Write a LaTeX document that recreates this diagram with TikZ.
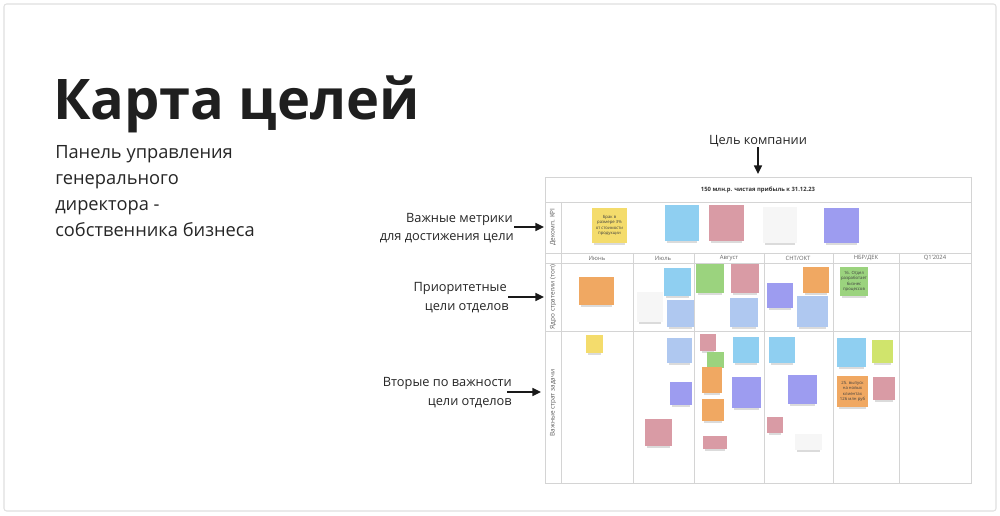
\documentclass[tikz,border=0pt]{standalone}
\usepackage{fontspec}
\setmainfont{Open Sans}
\usetikzlibrary{arrows.meta}
\definecolor{nyellow}{HTML}{F4DC6C}
\definecolor{nblue}{HTML}{8FCFF1}
\definecolor{npink}{HTML}{D99BA5}
\definecolor{npurple}{HTML}{9D9CF0}
\definecolor{norange}{HTML}{F0A862}
\definecolor{nperi}{HTML}{AFC8F0}
\definecolor{ngreen}{HTML}{9BD37E}
\definecolor{nlime}{HTML}{D0E46C}
\definecolor{nwhite}{HTML}{F6F6F6}
\definecolor{gridc}{HTML}{D4D4D4}
\newcommand{\sticky}[7]{%
  \fill[black!40,opacity=0.35] (#2+2,#5-1) rectangle (#4-2,#5+2.2);
  \node[notebox,fill=#6,minimum width={(#4-#2)*0.75pt},minimum height={(#5-#3)*0.75pt}] (#1) at ({(#2+#4)/2},{(#3+#5)/2}) {#7};
}
\begin{document}
\begin{tikzpicture}[x=0.75pt,y=-0.75pt,
  notebox/.style={inner sep=0pt,align=center,text=black!75,font=\fontsize{3.2}{3.9}\selectfont},
  conn/.style={-{Triangle[length=6.5pt,width=6pt]},line width=1.2pt,black!90},
  grid/.style={draw=gridc,line width=0.55pt},
  lbl/.style={inner sep=0pt,font=\fontsize{9.6}{12}\selectfont,text=black!85},
  sub/.style={inner sep=0pt,anchor=base west,font=\fontsize{13.7}{16}\selectfont,text=black!85},
  month/.style={inner sep=0pt,font=\fontsize{4.4}{5}\selectfont,text=black!60},
  rowlbl/.style={inner sep=0pt,rotate=90,font=\fontsize{4.8}{5.5}\selectfont,text=black!65}]
\useasboundingbox (0,0) rectangle (1000,516);
\fill[white] (0,0) rectangle (1000,516);
\draw[black!12,line width=0.8pt,rounded corners=2pt] (4,4) rectangle (996,511);

% title
\node[inner sep=0pt,anchor=base west,font=\bfseries\fontsize{42}{48}\selectfont,text=black!88] (title) at (53,120) {Карта целей};
\node[sub] (s1) at (55,159) {Панель управления};
\node[sub] (s2) at (55,185) {генерального};
\node[sub] (s3) at (55,211) {директора -};
\node[sub] (s4) at (55,237) {собственника бизнеса};

% goal
\node[lbl] (goal) at (758,141) {Цель компании};
\coordinate (goalend) at (758,174);
\draw[conn] (goal.south) -- (goalend);

% left labels
\node[lbl,anchor=base east] (l1a) at (513,223) {Важные метрики};
\node[lbl,anchor=base east] (l1b) at (514,241) {для достижения цели};
\node[lbl,anchor=base east] (l2a) at (507,292) {Приоритетные};
\node[lbl,anchor=base east] (l2b) at (509,311) {цели отделов};
\node[lbl,anchor=base east] (l3a) at (512,387) {Вторые по важности};
\node[lbl,anchor=base east] (l3b) at (512,406) {цели отделов};
\coordinate (a1s) at (514,227); \coordinate (a1e) at (544,227);
\coordinate (a2s) at (508,297); \coordinate (a2e) at (544,297);
\coordinate (a3s) at (507,392); \coordinate (a3e) at (541,392);
\draw[conn] (a1s) -- (a1e);
\draw[conn] (a2s) -- (a2e);
\draw[conn] (a3s) -- (a3e);

% table
\draw[grid] (545,177) rectangle (971,483);
\draw[grid] (545,202) -- (971,202);
\draw[grid] (545,253) -- (971,253);
\draw[grid] (545,263) -- (971,263);
\draw[grid] (545,331) -- (971,331);
\draw[grid] (561,202) -- (561,483);
\foreach \xx in {633,694,764,833,899} \draw[grid] (\xx,253) -- (\xx,483);

\node[inner sep=0pt,font=\bfseries\fontsize{4.4}{5}\selectfont,text=black!80] (goalhdr) at (758,190) {150 млн.р. чистая прибыль к 31.12.23};
\node[month] (m1) at (597,258) {Июнь};
\node[month] (m2) at (663,258) {Июль};
\node[month] (m3) at (729,258) {Август};
\node[month] (m4) at (798,258) {СНТ/ОКТ};
\node[month] (m5) at (866,258) {НБР/ДЕК};
\node[month] (m6) at (935,258) {Q1'2024};
\node[rowlbl] (r1) at (553,227) {Декомп. KPI};
\node[rowlbl] (r2) at (553,297) {Ядро стратегии (топ)};
\node[rowlbl] (r3) at (553,403) {Важные страт задачи};

% KPI row
\sticky{k1}{592}{208}{627}{243}{nyellow}{Брак в\\размере 3\%\\от стоимости\\продукции}
\sticky{k2}{665}{205}{699}{241}{nblue}{}
\sticky{k3}{709}{205}{744}{241}{npink}{}
\sticky{k4}{763}{207}{797}{243}{nwhite}{}
\sticky{k5}{824}{208}{859}{243}{npurple}{}
% core row
\sticky{c1}{579}{277}{614}{305}{norange}{}
\sticky{c2}{637}{292}{663}{322}{nwhite}{}
\sticky{c3}{664}{268}{691}{296}{nblue}{}
\sticky{c4}{667}{300}{694}{327}{nperi}{}
\sticky{c5}{696}{264}{724}{293}{ngreen}{}
\sticky{c6}{731}{264}{759}{293}{npink}{}
\sticky{c7}{730}{298}{758}{327}{nperi}{}
\sticky{c8}{767}{283}{793}{308}{npurple}{}
\sticky{c9}{803}{267}{829}{293}{norange}{}
\sticky{c10}{797}{296}{828}{327}{nperi}{}
\sticky{c11}{840}{267}{868}{296}{ngreen}{16. Отдел\\разработает\\бизнес\\процессов}
% tasks row
\sticky{t1}{586}{335}{603}{353}{nyellow}{}
\sticky{t2}{667}{338}{692}{363}{nperi}{}
\sticky{t3}{670}{382}{692}{405}{npurple}{}
\sticky{t4}{645}{419}{672}{446}{npink}{}
\sticky{t5}{700}{334}{716}{351}{npink}{}
\sticky{t6}{707}{352}{724}{368}{ngreen}{}
\sticky{t7}{702}{367}{722}{393}{norange}{}
\sticky{t8}{702}{399}{724}{421}{norange}{}
\sticky{t9}{703}{436}{727}{449}{npink}{}
\sticky{t10}{733}{337}{759}{363}{nblue}{}
\sticky{t11}{732}{377}{761}{408}{npurple}{}
\sticky{t12}{769}{337}{795}{363}{nblue}{}
\sticky{t13}{788}{375}{817}{404}{npurple}{}
\sticky{t14}{767}{417}{783}{433}{npink}{}
\sticky{t15}{795}{434}{822}{450}{nwhite}{}
\sticky{t16}{837}{338}{866}{367}{nblue}{}
\sticky{t17}{872}{340}{893}{363}{nlime}{}
\sticky{t18}{837}{376}{868}{407}{norange}{25. выпуск\\на новых\\клиентах\\126 млн руб}
\sticky{t19}{873}{377}{895}{400}{npink}{}
\end{tikzpicture}
\end{document}
